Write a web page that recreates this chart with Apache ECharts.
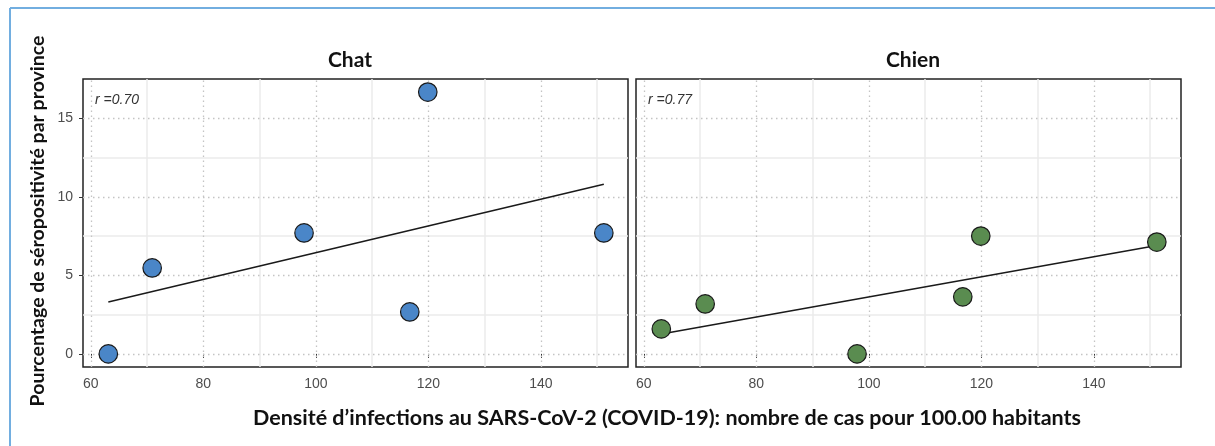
<!DOCTYPE html>
<html>
<head>
<meta charset="utf-8">
<script src="https://cdn.jsdelivr.net/npm/echarts@6/dist/echarts.min.js"></script>
<style>
  html, body { margin: 0; padding: 0; background: #fff; }
  #chart { width: 1215px; height: 446px; }
</style>
</head>
<body>
<div id="chart"></div>
<script>
// Infection density per province (cases per 100.000 inhabitants)
const density = [63.1, 70.9, 97.9, 116.7, 119.9, 151.2];
// Seropositivity (%) per province
const chatSero = [0, 5.47, 7.7, 2.67, 16.67, 7.7];
const chienSero = [1.59, 3.18, 0, 3.63, 7.5, 7.12];
// Fitted trend lines (start / end)
const chatFit = [[63.1, 3.3], [151.2, 10.8]];
const chienFit = [[63.1, 1.27], [151.2, 6.9]];
const panelTitles = ['Chat', 'Chien'];
const rLabels = ['r =0.70', 'r =0.77'];
const xTicks = [60, 80, 100, 120, 140];
const xMinor = [70, 90, 110, 130, 150];
const yTicks = [0, 5, 10, 15];
const yMinor = [2.5, 7.5, 12.5];
const xTitle = 'Densité d\u2019infections au SARS-CoV-2 (COVID-19): nombre de cas pour 100.00 habitants';
const yTitle = 'Pourcentage de séropositivité par province';

const X_RANGE = [58.6, 155.5];
const Y_RANGE = [-0.835, 17.5];
const PANEL_W = 545, PANEL_H = 288, PANEL_TOP = 79;
const panelLeft = [83, 636];
const titleCenterX = [350, 913];

const chart = echarts.init(document.getElementById('chart'), null, { renderer: 'canvas' });

const tickFont = { fontFamily: 'Liberation Sans', fontSize: 14, color: '#4d4d4d' };

function xAxisFor(i) {
  return {
    type: 'value', gridIndex: i, min: X_RANGE[0], max: X_RANGE[1],
    axisLine: { show: false },
    axisTick: { show: true, customValues: xTicks, length: 4, lineStyle: { color: '#333', width: 1 } },
    axisLabel: Object.assign({ customValues: xTicks, margin: 10 }, tickFont),
    splitLine: { show: false }
  };
}
function yAxisFor(i) {
  return {
    type: 'value', gridIndex: i, min: Y_RANGE[0], max: Y_RANGE[1],
    axisLine: { show: false },
    axisTick: { show: i === 0, customValues: yTicks, length: 4, lineStyle: { color: '#333', width: 1 } },
    axisLabel: Object.assign({ show: i === 0, customValues: yTicks, margin: 10 }, tickFont),
    splitLine: { show: false }
  };
}

// Background grid: dotted major lines, solid light minor lines
function gridLines() {
  const major = { color: '#c4c4c4', width: 1.3, type: [1.5, 3.5] };
  const minor = { color: '#ebebeb', width: 1.5, type: 'solid' };
  const d = [];
  xMinor.forEach(v => d.push({ xAxis: v, lineStyle: minor }));
  yMinor.forEach(v => d.push({ yAxis: v, lineStyle: minor }));
  xTicks.forEach(v => d.push({ xAxis: v, lineStyle: major }));
  yTicks.forEach(v => d.push({ yAxis: v, lineStyle: major }));
  return d;
}

const sero = [chatSero, chienSero];
const fits = [chatFit, chienFit];
const pointColors = ['#4a86c8', '#5a8c50'];

const series = [];
[0, 1].forEach(i => {
  series.push({
    type: 'scatter', xAxisIndex: i, yAxisIndex: i, data: [], z: 1, silent: true,
    markLine: { z: 1, silent: true, symbol: ['none', 'none'], label: { show: false }, animation: false, data: gridLines() }
  });
  series.push({
    type: 'line', xAxisIndex: i, yAxisIndex: i, data: fits[i], z: 3, symbol: 'none',
    lineStyle: { color: '#1a1a1a', width: 1.5 }, silent: true
  });
  series.push({
    type: 'scatter', xAxisIndex: i, yAxisIndex: i, z: 4, symbolSize: 18.5,
    data: density.map((x, k) => [x, sero[i][k]]),
    itemStyle: { color: pointColors[i], borderColor: '#1a1a1a', borderWidth: 1.2, opacity: 1 }
  });
});

const titleFont = { fontFamily: 'Lato', fontWeight: 'bold', fill: '#111', align: 'center', verticalAlign: 'middle' };
const graphics = [
  // frame lines
  { type: 'line', shape: { x1: 10, y1: 8, x2: 1215, y2: 8 }, style: { stroke: '#72aee0', lineWidth: 2 } },
  { type: 'line', shape: { x1: 10, y1: 8, x2: 10, y2: 446 }, style: { stroke: '#72aee0', lineWidth: 2 } },
  // axis titles
  { type: 'text', x: 667, y: 418, style: Object.assign({ text: xTitle, fontSize: 21.5 }, titleFont) },
  { type: 'text', x: 38, y: 221, rotation: Math.PI / 2, style: Object.assign({ text: yTitle, fontSize: 19.5 }, titleFont) }
];
[0, 1].forEach(i => {
  graphics.push({ type: 'text', x: titleCenterX[i], y: 60, style: Object.assign({ text: panelTitles[i], fontSize: 21 }, titleFont) });
  graphics.push({ type: 'text', x: panelLeft[i] + 12, y: 100, style: { text: rLabels[i], fontFamily: 'Liberation Sans', fontStyle: 'italic', fontSize: 14, fill: '#333', align: 'left', verticalAlign: 'middle' } });
});

chart.setOption({
  animation: false,
  backgroundColor: '#ffffff',
  grid: panelLeft.map(l => ({ left: l, top: PANEL_TOP, width: PANEL_W, height: PANEL_H, show: true, borderColor: '#222', borderWidth: 1.5, backgroundColor: 'transparent', containLabel: false })),
  xAxis: [xAxisFor(0), xAxisFor(1)],
  yAxis: [yAxisFor(0), yAxisFor(1)],
  series: series,
  graphic: graphics
});
</script>
</body>
</html>
